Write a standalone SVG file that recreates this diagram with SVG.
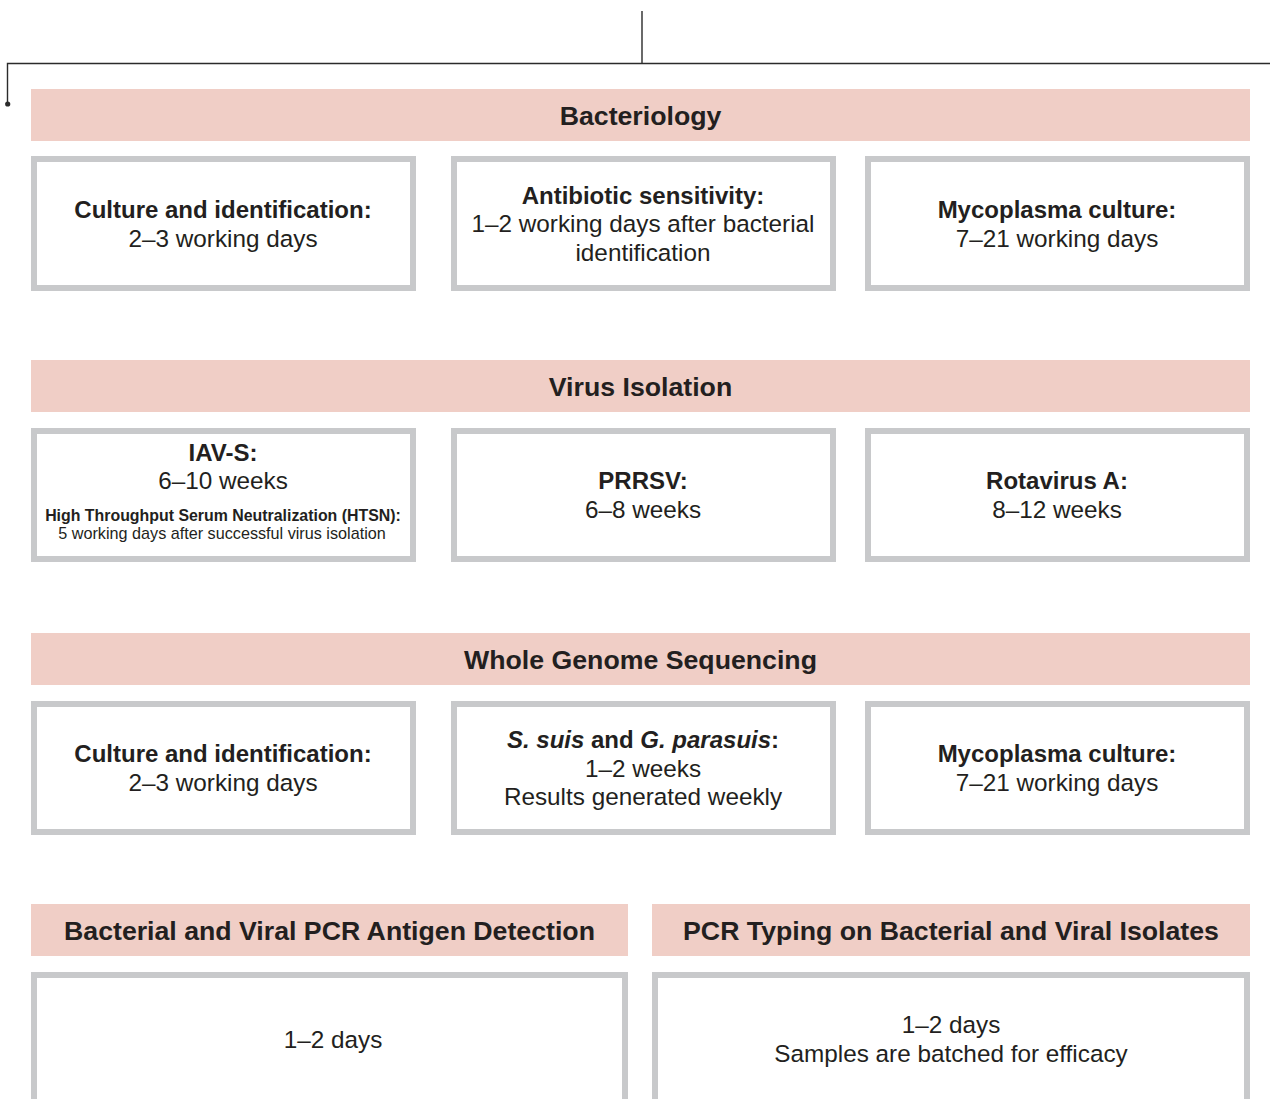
<svg xmlns="http://www.w3.org/2000/svg" width="1270" height="1099" viewBox="0 0 1270 1099">
<style>
.bar{fill:#f0cec6}
.box{fill:#fff;stroke:#c8c9cb;stroke-width:6}
.h{font-family:"Liberation Sans",Arial,sans-serif;font-weight:bold;font-size:26.7px;fill:#231f20;text-anchor:middle}
.b{font-family:"Liberation Sans",Arial,sans-serif;font-weight:bold;font-size:24px;fill:#231f20;text-anchor:middle}
.r{font-family:"Liberation Sans",Arial,sans-serif;font-size:24.3px;fill:#231f20;text-anchor:middle}
.sb{font-family:"Liberation Sans",Arial,sans-serif;font-weight:bold;font-size:15.9px;fill:#231f20;text-anchor:middle}
.sr{font-family:"Liberation Sans",Arial,sans-serif;font-size:16.2px;fill:#231f20;text-anchor:middle}
.ln{fill:none;stroke:#2b2b2b;stroke-width:1.4}
</style>
<rect width="1270" height="1099" fill="#fff"/>
<g id="connectors">
<path class="ln" d="M642 11V63M7.5 104V63.5H1270"/>
<circle cx="7.7" cy="104" r="2.6" fill="#2b2b2b"/>
</g>
<g id="bacteriology">
<rect class="bar" x="31" y="89" width="1219" height="52"/>
<text class="h" x="640.5" y="125">Bacteriology</text>
</g>
<g id="bact-culture">
<rect class="box" x="34" y="159" width="379" height="129"/>
<text class="b" x="223" y="218">Culture and identification:</text>
<text class="r" x="223" y="247">2–3 working days</text>
</g>
<g id="bact-antibiotic">
<rect class="box" x="454" y="159" width="379" height="129"/>
<text class="b" x="643" y="204">Antibiotic sensitivity:</text>
<text class="r" x="643" y="232">1–2 working days after bacterial</text>
<text class="r" x="643" y="261">identification</text>
</g>
<g id="bact-mycoplasma">
<rect class="box" x="868" y="159" width="379" height="129"/>
<text class="b" x="1057" y="218">Mycoplasma culture:</text>
<text class="r" x="1057" y="247">7–21 working days</text>
</g>
<g id="virus-isolation">
<rect class="bar" x="31" y="360" width="1219" height="52"/>
<text class="h" x="640.5" y="396">Virus Isolation</text>
</g>
<g id="vi-iav">
<rect class="box" x="34" y="431" width="379" height="128"/>
<text class="b" x="223" y="461">IAV-S:</text>
<text class="r" x="223" y="489">6–10 weeks</text>
<text class="sb" x="223" y="521">High Throughput Serum Neutralization (HTSN):</text>
<text class="sr" x="222" y="539">5 working days after successful virus isolation</text>
</g>
<g id="vi-prrsv">
<rect class="box" x="454" y="431" width="379" height="128"/>
<text class="b" x="643" y="489">PRRSV:</text>
<text class="r" x="643" y="518">6–8 weeks</text>
</g>
<g id="vi-rota">
<rect class="box" x="868" y="431" width="379" height="128"/>
<text class="b" x="1057" y="489">Rotavirus A:</text>
<text class="r" x="1057" y="518">8–12 weeks</text>
</g>
<g id="wgs">
<rect class="bar" x="31" y="633" width="1219" height="52"/>
<text class="h" x="640.5" y="669">Whole Genome Sequencing</text>
</g>
<g id="wgs-culture">
<rect class="box" x="34" y="704" width="379" height="128"/>
<text class="b" x="223" y="762">Culture and identification:</text>
<text class="r" x="223" y="791">2–3 working days</text>
</g>
<g id="wgs-ssuis">
<rect class="box" x="454" y="704" width="379" height="128"/>
<text class="b" x="643" y="748"><tspan font-style="italic">S. suis</tspan> and <tspan font-style="italic">G. parasuis</tspan>:</text>
<text class="r" x="643" y="777">1–2 weeks</text>
<text class="r" x="643" y="805">Results generated weekly</text>
</g>
<g id="wgs-mycoplasma">
<rect class="box" x="868" y="704" width="379" height="128"/>
<text class="b" x="1057" y="762">Mycoplasma culture:</text>
<text class="r" x="1057" y="791">7–21 working days</text>
</g>
<g id="pcr-antigen">
<rect class="bar" x="31" y="904" width="597" height="52"/>
<text class="h" x="329.5" y="940">Bacterial and Viral PCR Antigen Detection</text>
<rect class="box" x="34" y="975" width="591" height="140"/>
<text class="r" x="333" y="1048">1–2 days</text>
</g>
<g id="pcr-typing">
<rect class="bar" x="652" y="904" width="598" height="52"/>
<text class="h" x="951" y="940">PCR Typing on Bacterial and Viral Isolates</text>
<rect class="box" x="655" y="975" width="592" height="140"/>
<text class="r" x="951" y="1033">1–2 days</text>
<text class="r" x="951" y="1062">Samples are batched for efficacy</text>
</g>
</svg>
